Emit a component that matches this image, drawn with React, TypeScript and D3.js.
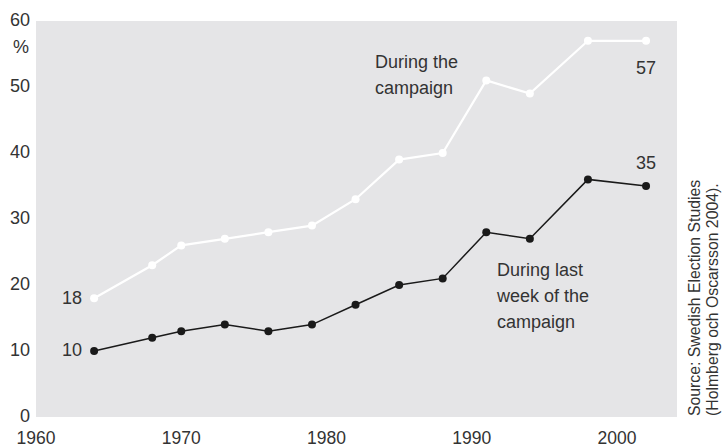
import React from "react";
import * as d3 from "d3";

const years = [1964, 1968, 1970, 1973, 1976, 1979, 1982, 1985, 1988, 1991, 1994, 1998, 2002];
const campaign = [18, 23, 26, 27, 28, 29, 33, 39, 40, 51, 49, 57, 57];
const lastWeek = [10, 12, 13, 14, 13, 14, 17, 20, 21, 28, 27, 36, 35];
const yTicks = [0, 10, 20, 30, 40, 50, 60];
const xTicks = [1960, 1970, 1980, 1990, 2000];

const W = 727, H = 448;
const left = 36, right = 677, top = 21, bottom = 417;
const font = "'Liberation Sans', Arial, Helvetica, sans-serif";
const txt = "#333";
const fs = 18;

export default function App() {
  const x = d3.scaleLinear().domain([1960, 2000]).range([left, 617]);
  const y = d3.scaleLinear().domain([0, 60]).range([bottom, top]);
  const line = d3.line<[number, number]>().x(d => x(d[0])).y(d => y(d[1]));
  const cData = years.map((yr, i) => [yr, campaign[i]] as [number, number]);
  const lData = years.map((yr, i) => [yr, lastWeek[i]] as [number, number]);
  return (
    <svg width={W} height={H} style={{ position: "absolute", left: 0, top: 0 }} fontFamily={font}>
      <rect x={left} y={top} width={right - left} height={bottom - top} fill="#e5e5e7" />
      {yTicks.map(t => (
        <text key={t} x={30} y={y(t) - 1} dy="0.35em" textAnchor="end" fontSize={fs} fill={txt}>{t}</text>
      ))}
      <text x={21} y={47} dy="0.35em" textAnchor="middle" fontSize={fs} fill={txt}>%</text>
      {xTicks.map(t => (
        <text key={t} x={x(t)} y={444} textAnchor="middle" fontSize={17.5} fill={txt}>{t}</text>
      ))}
      <path d={line(cData) || ""} fill="none" stroke="#fff" strokeWidth={2.2} />
      {cData.map((d, i) => <circle key={i} cx={x(d[0])} cy={y(d[1])} r={4} fill="#fff" />)}
      <path d={line(lData) || ""} fill="none" stroke="#1a1a1a" strokeWidth={1.5} />
      {lData.map((d, i) => <circle key={i} cx={x(d[0])} cy={y(d[1])} r={4} fill="#1a1a1a" />)}
      <text x={x(years[0]) - 12} y={y(campaign[0]) - 1} dy="0.35em" textAnchor="end" fontSize={fs} fill={txt}>{campaign[0]}</text>
      <text x={x(years[0]) - 12} y={y(lastWeek[0]) - 1} dy="0.35em" textAnchor="end" fontSize={fs} fill={txt}>{lastWeek[0]}</text>
      <text x={x(years[12])} y={y(campaign[12]) + 27} dy="0.35em" textAnchor="middle" fontSize={fs} fill={txt}>{campaign[12]}</text>
      <text x={x(years[12])} y={y(lastWeek[12]) - 23} dy="0.35em" textAnchor="middle" fontSize={fs} fill={txt}>{lastWeek[12]}</text>
      <text x={375} y={62} dy="0.35em" fontSize={fs} fill={txt}>During the</text>
      <text x={375} y={88} dy="0.35em" fontSize={fs} fill={txt}>campaign</text>
      <text x={497} y={270} dy="0.35em" fontSize={fs} fill={txt}>During last</text>
      <text x={497} y={296} dy="0.35em" fontSize={fs} fill={txt}>week of the</text>
      <text x={497} y={322} dy="0.35em" fontSize={fs} fill={txt}>campaign</text>
      <g transform="translate(700,416) rotate(-90)">
        <text x={0} y={0} fontSize={15.8} fill={txt}>Source: Swedish Election Studies</text>
        <text x={0} y={18} fontSize={15.8} fill={txt}>(Holmberg och Oscarsson 2004).</text>
      </g>
    </svg>
  );
}
